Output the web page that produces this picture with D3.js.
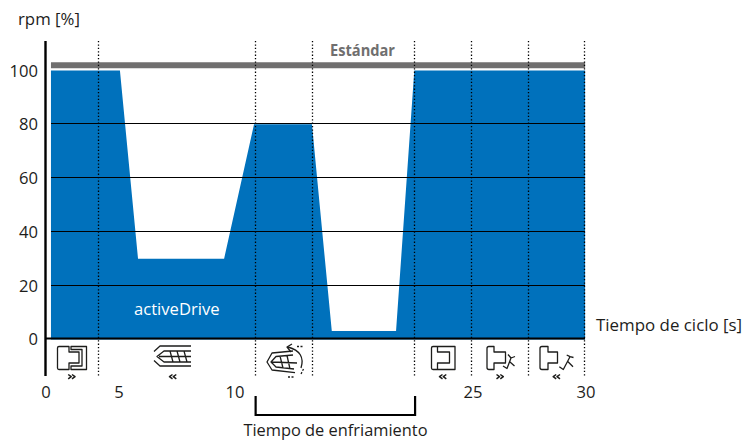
<!DOCTYPE html>
<html><head><meta charset="utf-8">
<script src="https://cdn.jsdelivr.net/npm/d3@7"></script>
<style>html,body{margin:0;padding:0;background:#fff}svg{display:block}text{font-family:"Open Sans",sans-serif;fill:#1d1d1b}</style>
</head><body><svg id="c" width="744" height="441"></svg>
<script>
const timeKnots=[0,5,10,25,30];
const xTickLabels=[0,5,10,25,30];
const yTicks=[0,20,40,60,80,100];
const activeTime=[0.34,5.04,5.82,9.53,11.2,14.85,16.1,20.15,21.3,29.96];
const activeRpm=[100,100,30,30,80,80,3.1,3.1,100,100];
const phaseTimes=[3.6,11.29,14.87,21.3,24.9,27.45,29.94];
const standardRpm=[102,102];
const standardTime=[0.34,29.96];
const coolingTime=[11.3,21.35];

const svg=d3.select("#c");
const x=d3.scaleLinear().domain(timeKnots).range([46,119,235,473,586]);
const y=d3.scaleLinear().domain([0,100]).range([339.4,70.6]);
const ink="#000", blue="#0071bc";

svg.append("path").datum(activeTime.map((t,i)=>[t,activeRpm[i]]))
 .attr("fill",blue)
 .attr("d",d3.area().x(d=>x(d[0])).y0(y(0)).y1(d=>y(d[1])));

svg.selectAll(".grid").data(yTicks.slice(1,5)).join("line").attr("class","grid")
 .attr("x1",51).attr("x2",585).attr("y1",d=>Math.round(y(d))-.5).attr("y2",d=>Math.round(y(d))-.5)
 .attr("stroke",ink).attr("stroke-width",1);

svg.append("line").attr("x1",x(standardTime[0])).attr("x2",x(standardTime[1]))
 .attr("y1",y(standardRpm[0])).attr("y2",y(standardRpm[1]))
 .attr("stroke","#706f6f").attr("stroke-width",6);

svg.selectAll(".phase").data(phaseTimes).join("line").attr("class","phase")
 .attr("x1",d=>Math.floor(x(d))+.5).attr("x2",d=>Math.floor(x(d))+.5)
 .attr("y1",41).attr("y2",376)
 .attr("stroke",ink).attr("stroke-width",1.3).attr("stroke-dasharray","1.3 2.1");

// axes
svg.append("line").attr("x1",45.5).attr("x2",45.5).attr("y1",41).attr("y2",376).attr("stroke",ink).attr("stroke-width",2.4);
svg.append("line").attr("x1",45).attr("x2",585).attr("y1",338.5).attr("y2",338.5).attr("stroke",ink).attr("stroke-width",2.2);

svg.selectAll(".yl").data(yTicks).join("text").attr("class","yl")
 .attr("x",38).attr("y",d=>y(d)+6).attr("text-anchor","end").attr("font-size",16.6).text(d=>d);
svg.selectAll(".xl").data(xTickLabels).join("text").attr("class","xl")
 .attr("x",d=>x(d)).attr("y",398).attr("text-anchor","middle").attr("font-size",16.6).text(d=>d);

svg.append("text").attr("x",18).attr("y",25).attr("font-size",16.8).text("rpm [%]");
svg.append("text").attr("x",596).attr("y",331).attr("font-size",16.9).text("Tiempo de ciclo [s]");
svg.append("text").attr("x",134).attr("y",315).attr("font-size",16.6).style("fill","#fff").text("activeDrive");
svg.append("text").attr("x",330).attr("y",55.5).attr("font-size",16).attr("font-weight",700).attr("textLength",65).attr("lengthAdjust","spacingAndGlyphs").style("fill","#706f6f").text("Estándar");

// cooling bracket
svg.append("path").attr("fill","none").attr("stroke",ink).attr("stroke-width",2.2)
 .attr("d",`M${x(coolingTime[0])},396V415H${x(coolingTime[1])}V396`);
svg.append("text").attr("x",335.5).attr("y",436).attr("text-anchor","middle").attr("font-size",16.4).text("Tiempo de enfriamiento");

// phase pictograms
const ic=svg.append("g").attr("fill","none").attr("stroke","#1d1d1b").attr("stroke-width",1.3).attr("stroke-linejoin","round");
const chev=(cx,cy,dir)=>{const s=dir>0?1:-1;
 [-2,1.8].forEach(o=>ic.append("path").attr("stroke-width",1.5).attr("d",`M${cx+o-s*1.5},${cy-2.2}L${cx+o+s*1.5},${cy}L${cx+o-s*1.5},${cy+2.2}`));};
// 1 closing mould
ic.append("path").attr("d","M59,346.5H69V352H79V363H69V369.5H59Q57.5,369.5 57.5,368V348Q57.5,346.5 59,346.5Z");
ic.append("path").attr("d","M71,346.5H86.5V369.5H71V366H82V349.5H71Z");
chev(71.7,376.7,1);
// 2 injection screw
ic.append("path").attr("d","M191,346H160L154,351.5M191,366H160L154,360.5");
ic.append("path").attr("d","M191,351H164L157,356.5L164,362H191M159,356.5H191M170,351L173,362M177,351L180,362M184,351L187,362");
chev(173,376.7,-1);
// 3 plasticising
ic.append("path").attr("d","M293,351L272,353L267,362L272,370L295,372.7");
ic.append("path").attr("d","M293,355L276,356.5L271,362L276,367L294,369M280,356L283,368M287,355.5L290,369M272,362L297,363");
ic.append("path").attr("d","M288,347Q306,352 301,368");
ic.append("path").attr("d","M292,344L287,347L291,352");
ic.append("path").attr("d","M297,346.5H303M303.5,369L301,374M288,377H295").attr("stroke-dasharray","2 1.5");
// 4 opening mould
ic.append("path").attr("d","M433,346.5H455V369.5H433Q431.5,369.5 431.5,368V348Q431.5,346.5 433,346.5Z");
ic.append("path").attr("d","M437.5,346.5V352H449.5V363H437.5V369.5");
chev(443,376.7,-1);
// 5 ejector forward
ic.append("path").attr("d","M489,346.5H494V352H505.5V363H494V369.5H489Q487,369.5 487,367.5V348.5Q487,346.5 489,346.5Z");
ic.append("path").attr("d","M503,366L507,368.5L511,358L508,354.5M511,358L515,356.5M510,362L514.5,366");
chev(500,376.7,1);
// 6 ejector back
ic.append("path").attr("d","M542,346.5H548V352H557.5V363H548V369.5H542Q540,369.5 540,367.5V348.5Q540,346.5 542,346.5Z");
ic.append("path").attr("d","M559.3,366.7L563.3,369.5L570,356.7L566.7,355M570,356.7L573.5,357.5M568,361.7L573,366.7");
chev(556.7,376.7,-1);
</script></body></html>
